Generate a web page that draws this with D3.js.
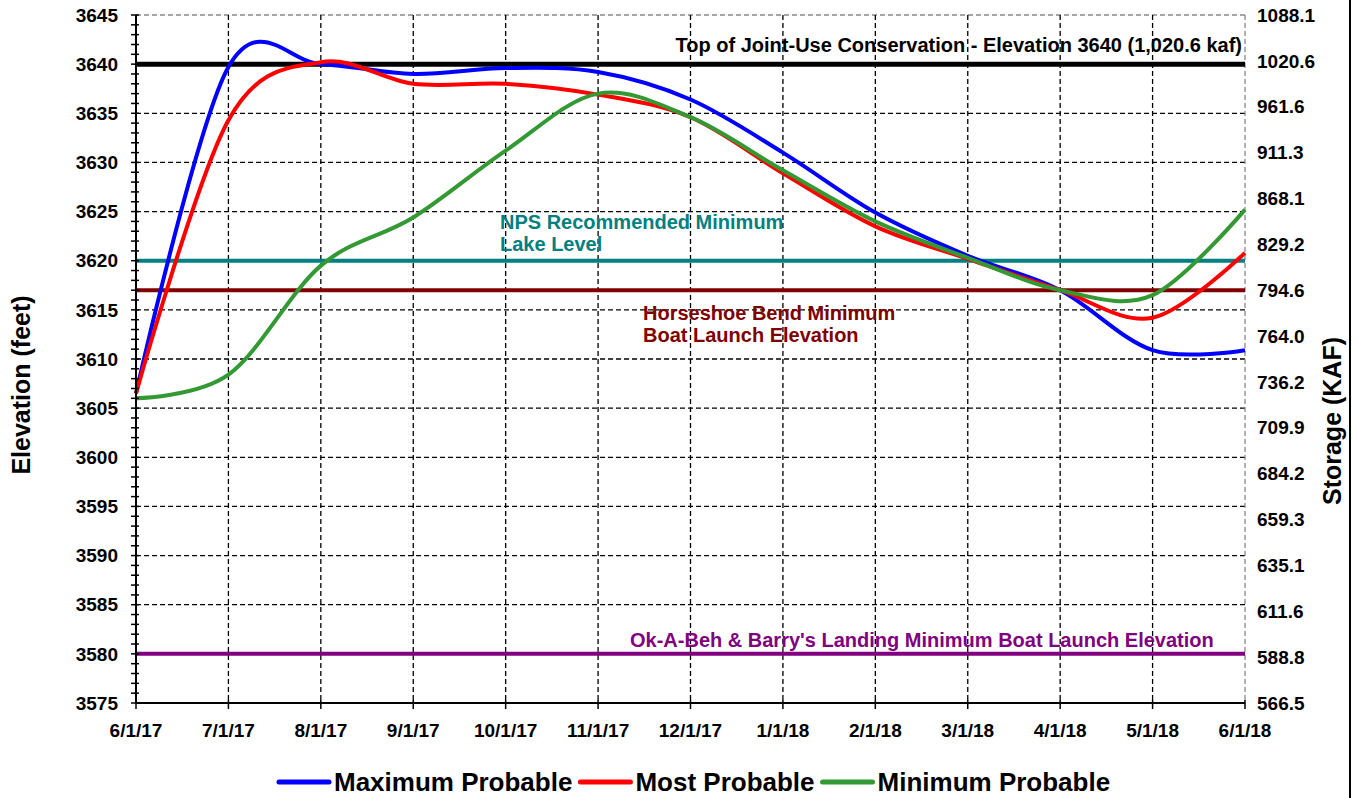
<!DOCTYPE html>
<html>
<head>
<meta charset="utf-8">
<script src="https://cdn.jsdelivr.net/npm/d3@7"></script>
<style>
  body { margin: 0; background: #fff; }
  text { font-family: "Liberation Sans", Arial, sans-serif; font-weight: bold; }
</style>
</head>
<body>
<div id="chart"></div>
<script>
const monthLabels = ["6/1/17","7/1/17","8/1/17","9/1/17","10/1/17","11/1/17","12/1/17","1/1/18","2/1/18","3/1/18","4/1/18","5/1/18","6/1/18"];
const maxProbable = [3606.5, 3639.7, 3640.0, 3639.0, 3639.6, 3639.2, 3636.4, 3631.0, 3624.9, 3620.5, 3617.0, 3610.9, 3610.9];
const mostProbable = [3606.5, 3634.3, 3640.2, 3638.0, 3638.0, 3636.9, 3634.6, 3628.9, 3623.5, 3620.2, 3617.0, 3614.2, 3620.8];
const minProbable = [3606.0, 3608.4, 3619.5, 3624.4, 3631.2, 3637.0, 3634.6, 3629.2, 3624.0, 3620.3, 3617.0, 3616.5, 3625.2];
const elevTicks = d3.range(3575, 3646, 5);
const storageLabels = ["566.5","588.8","611.6","635.1","659.3","684.2","709.9","736.2","764.0","794.6","829.2","868.1","911.3","961.6","1020.6","1088.1"];
const refLevels = [
  {value: 3640, color: "#000000", width: 5},
  {value: 3620, color: "#008080", width: 4},
  {value: 3617, color: "#800000", width: 4},
  {value: 3580, color: "#800080", width: 4}
];
const seriesList = [
  {name: "Maximum Probable", values: maxProbable, color: "#0000ff"},
  {name: "Most Probable", values: mostProbable, color: "#ff0000"},
  {name: "Minimum Probable", values: minProbable, color: "#339933"}
];

const width = 1358, height = 798;
const margin = {top: 15, right: 113, bottom: 95, left: 136};
const plotW = width - margin.left - margin.right;
const plotH = height - margin.top - margin.bottom;

const svg = d3.select("#chart").append("svg")
    .attr("width", width).attr("height", height);

const x = d3.scaleLinear().domain([0, monthLabels.length - 1]).range([margin.left, margin.left + plotW]);
const y = d3.scaleLinear().domain([3575, 3645]).range([margin.top + plotH, margin.top]);
const yStor = d3.scaleLinear().domain([0, storageLabels.length - 1]).range([margin.top + plotH, margin.top]);

// outer frame edge
svg.append("line").attr("x1", 1350).attr("x2", 1350).attr("y1", 0).attr("y2", height)
    .attr("stroke", "#000").attr("stroke-width", 2);

// grid
const grid = svg.append("g");
elevTicks.forEach(v => {
  grid.append("line")
      .attr("x1", margin.left).attr("x2", margin.left + plotW)
      .attr("y1", y(v)).attr("y2", y(v))
      .attr("stroke", v === 3645 ? "#888" : "#000")
      .attr("stroke-width", 1.3).attr("stroke-dasharray", "5,3");
});
monthLabels.forEach((m, i) => {
  if (i === 0) return;
  grid.append("line")
      .attr("x1", x(i)).attr("x2", x(i))
      .attr("y1", margin.top).attr("y2", margin.top + plotH)
      .attr("stroke", i === monthLabels.length - 1 ? "#888" : "#000")
      .attr("stroke-width", 1.3).attr("stroke-dasharray", "5,3");
});

// reference lines
refLevels.forEach(r => {
  svg.append("line")
      .attr("x1", margin.left).attr("x2", margin.left + plotW)
      .attr("y1", y(r.value)).attr("y2", y(r.value))
      .attr("stroke", r.color).attr("stroke-width", r.width);
});

// reference labels
svg.append("text").attr("x", 1242).attr("y", 52).attr("text-anchor", "end")
    .attr("font-size", 20).attr("fill", "#000")
    .text("Top of Joint-Use Conservation - Elevation 3640 (1,020.6 kaf)");
svg.append("text").attr("x", 500).attr("y", 229).attr("font-size", 20).attr("fill", "#008080")
    .text("NPS Recommended Minimum");
svg.append("text").attr("x", 500).attr("y", 251).attr("font-size", 20).attr("fill", "#008080")
    .text("Lake Level");
svg.append("text").attr("x", 643).attr("y", 320).attr("font-size", 20).attr("fill", "#800000")
    .text("Horseshoe Bend Minimum");
svg.append("text").attr("x", 643).attr("y", 342).attr("font-size", 20).attr("fill", "#800000")
    .text("Boat Launch Elevation");
svg.append("text").attr("x", 630).attr("y", 647).attr("font-size", 20).attr("fill", "#800080")
    .text("Ok-A-Beh & Barry's Landing Minimum Boat Launch Elevation");

// series
const line = d3.line().x((d, i) => x(i)).y(d => y(d)).curve(d3.curveCardinal.tension(0));
seriesList.forEach(s => {
  svg.append("path").datum(s.values)
      .attr("fill", "none").attr("stroke", s.color).attr("stroke-width", 4)
      .attr("d", line);
});

// left axis
const leftAxis = svg.append("g").attr("transform", `translate(${margin.left},0)`);
leftAxis.append("line").attr("y1", margin.top).attr("y2", margin.top + plotH)
    .attr("stroke", "#000").attr("stroke-width", 2);
d3.range(3575, 3646, 1).forEach(v => {
  leftAxis.append("line").attr("x1", -5).attr("x2", 3).attr("y1", y(v)).attr("y2", y(v))
      .attr("stroke", "#000").attr("stroke-width", 1.5);
});
leftAxis.selectAll("text.tick").data(elevTicks).join("text")
    .attr("class", "tick")
    .attr("x", -18).attr("y", d => y(d)).attr("dy", "0.35em")
    .attr("text-anchor", "end").attr("font-size", 19)
    .text(d => d);

// bottom axis
const bottom = svg.append("g").attr("transform", `translate(0,${margin.top + plotH})`);
bottom.append("line").attr("x1", margin.left).attr("x2", margin.left + plotW)
    .attr("stroke", "#000").attr("stroke-width", 2);
monthLabels.forEach((m, i) => {
  bottom.append("line").attr("x1", x(i)).attr("x2", x(i)).attr("y1", -3).attr("y2", 6)
      .attr("stroke", "#000").attr("stroke-width", 1.5);
});
bottom.selectAll("text").data(monthLabels).join("text")
    .attr("x", (d, i) => x(i)).attr("y", 34)
    .attr("text-anchor", "middle").attr("font-size", 19)
    .text(d => d);

// right storage labels
svg.selectAll("text.stor").data(storageLabels).join("text")
    .attr("class", "stor")
    .attr("x", 1257).attr("y", (d, i) => yStor(i)).attr("dy", "0.35em")
    .attr("font-size", 19)
    .text(d => d);

// axis titles
svg.append("text").attr("transform", `translate(30,${margin.top + plotH / 2 + 26}) rotate(-90)`)
    .attr("text-anchor", "middle").attr("font-size", 25).text("Elevation (feet)");
svg.append("text").attr("transform", `translate(1341,${margin.top + plotH / 2 + 62}) rotate(-90)`)
    .attr("text-anchor", "middle").attr("font-size", 25).text("Storage (KAF)");

// legend
const legend = svg.append("g").attr("transform", "translate(279,782)");
let lx = 0;
seriesList.forEach(s => {
  legend.append("line").attr("x1", lx).attr("x2", lx + 50).attr("y1", 0).attr("y2", 0)
      .attr("stroke", s.color).attr("stroke-width", 5).attr("stroke-linecap", "round");
  const t = legend.append("text").attr("x", lx + 55).attr("y", 0).attr("dy", "0.35em")
      .attr("font-size", 26).text(s.name);
  lx += 55 + t.node().getComputedTextLength() + 8;
});
</script>
</body>
</html>
